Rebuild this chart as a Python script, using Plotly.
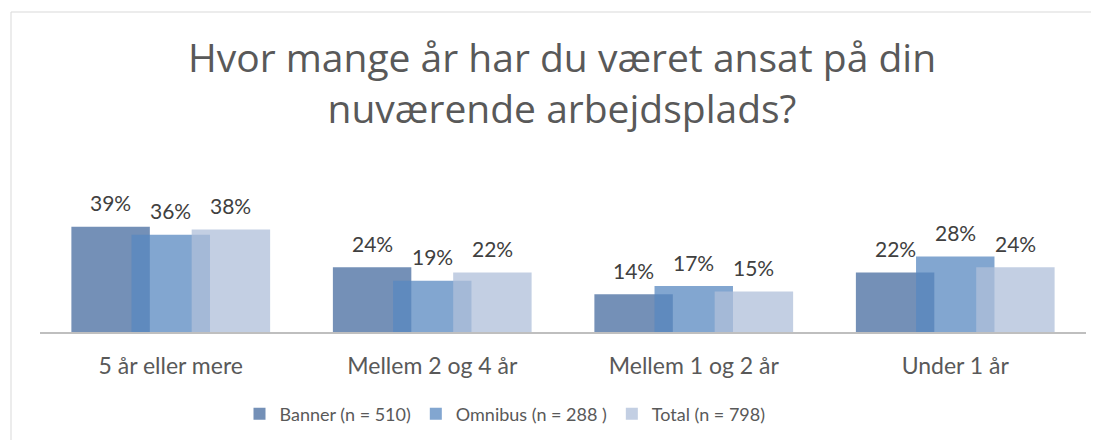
import plotly.graph_objects as go

# survey answers, share of respondents
categories = ["5 år eller mere", "Mellem 2 og 4 år", "Mellem 1 og 2 år", "Under 1 år"]
banner = [0.39, 0.24, 0.14, 0.22]
omnibus = [0.36, 0.19, 0.17, 0.28]
total = [0.38, 0.22, 0.15, 0.24]

series_names = ["Banner (n = 510)", "Omnibus (n = 288 )", "Total (n = 798)"]

title_text = "Hvor mange år har du været ansat på din<br>nuværende arbejdsplads?"

FONT = "Lato"
TITLE_FONT = "Open Sans"
TEXT_COLOR = "#595959"
LABEL_COLOR = "#404040"
BORDER = "#d9d9d9"

# page body has an 8px margin, so the figure is a bit smaller than the window
W, H = 1083, 432
L, T, PW, PH = 32, 172, 1046, 152

bar_width = 0.30
offsets = [-0.38, -0.15, 0.08]
colors = ["rgba(70,107,159,0.75)", "rgba(88,136,192,0.75)", "rgba(175,191,218,0.75)"]

fig = go.Figure()
x_pos = list(range(len(categories)))

for name, vals, off, col in zip(series_names, [banner, omnibus, total], offsets, colors):
    fig.add_trace(
        go.Bar(
            x=x_pos,
            y=vals,
            name=name,
            width=bar_width,
            offset=off,
            marker=dict(color=col, line=dict(width=0)),
            hoverinfo="y+name",
        )
    )
    # data labels sit a bit above the bars, like in Excel
    for i, v in enumerate(vals):
        fig.add_annotation(
            x=i + off + bar_width / 2,
            y=v,
            text=f"{round(v * 100)}%",
            showarrow=False,
            yanchor="middle",
            yshift=24,
            font=dict(family=FONT, size=21, color=LABEL_COLOR),
        )

# chart frame: only top and left edges are inside the window
x_left = (3 - L) / PW
y_top = (T + PH - 4) / PH
frame = [
    dict(type="line", xref="paper", yref="paper", x0=x_left, x1=1.2, y0=y_top, y1=y_top,
         line=dict(color=BORDER, width=1)),
    dict(type="line", xref="paper", yref="paper", x0=x_left, x1=x_left, y0=-1.5, y1=y_top,
         line=dict(color=BORDER, width=1)),
]

fig.update_layout(
    width=W,
    height=H,
    barmode="overlay",
    plot_bgcolor="white",
    paper_bgcolor="white",
    margin=dict(l=L, r=W - L - PW, t=T, b=H - T - PH),
    font=dict(family=FONT, color=TEXT_COLOR),
    title=dict(
        text=title_text,
        x=554 / W,
        xanchor="center",
        y=1 - 64 / H,
        yanchor="middle",
        yref="container",
        font=dict(family=TITLE_FONT, size=39, color=TEXT_COLOR),
    ),
    legend=dict(
        orientation="h",
        x=(497 - L) / PW,
        xanchor="center",
        y=-(406 - T - PH) / PH,
        yanchor="middle",
        font=dict(family=FONT, size=18, color=TEXT_COLOR),
        traceorder="normal",
    ),
    shapes=frame,
)

fig.update_xaxes(
    range=[-0.5, 3.5],
    tickvals=x_pos,
    ticktext=categories,
    showgrid=False,
    zeroline=False,
    showline=True,
    linecolor="#bfbfbf",
    linewidth=2,
    ticks="",
    ticklabelstandoff=12,
    tickfont=dict(family=FONT, size=23, color=TEXT_COLOR),
)
fig.update_yaxes(range=[0, PH / 270], visible=False)

fig.write_html("out.html")
